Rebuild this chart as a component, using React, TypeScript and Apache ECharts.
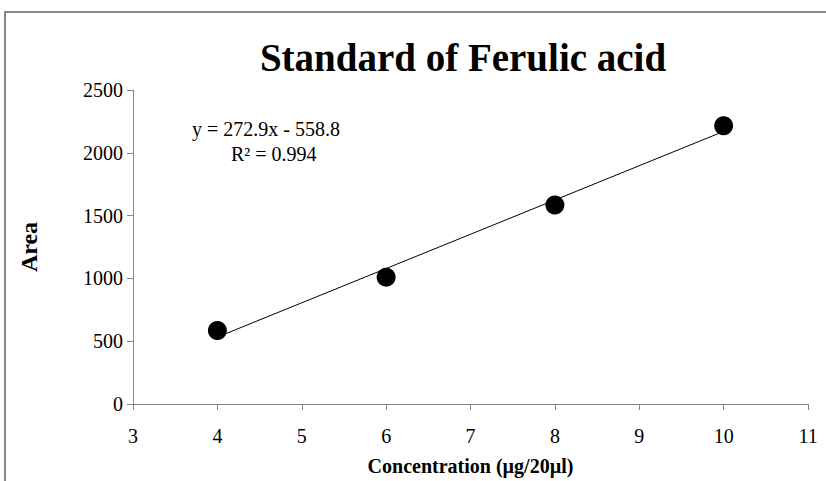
import React, { useEffect, useRef } from "react";
import * as echarts from "echarts";

const concentrations = [4, 6, 8, 10];
const areas = [585, 1010, 1585, 2215];
const slope = 272.9;
const intercept = -558.8;
const rSquared = "0.994";
const xTicks = [3, 4, 5, 6, 7, 8, 9, 10, 11];
const yTicks = [0, 500, 1000, 1500, 2000, 2500];

export default function App() {
  const ref = useRef<HTMLDivElement>(null);
  useEffect(() => {
    document.body.style.margin = "0";
    const chart = echarts.init(ref.current!, null, { renderer: "svg" });
    const serif = "'Liberation Serif', 'Times New Roman', serif";
    const x0 = concentrations[0];
    const x1 = concentrations[concentrations.length - 1];
    chart.setOption({
      animation: false,
      backgroundColor: "#ffffff",
      title: {
        text: "Standard of Ferulic acid",
        left: 458,
        top: 33,
        textAlign: "center",
        textStyle: { fontFamily: serif, fontSize: 39, fontWeight: "bold", color: "#000" },
      },
      grid: { left: 133, top: 90, width: 675, height: 316 },
      xAxis: {
        type: "value",
        min: xTicks[0],
        max: xTicks[xTicks.length - 1],
        interval: 1,
        name: "Concentration (µg/20µl)",
        nameLocation: "middle",
        nameGap: 52,
        nameTextStyle: { fontFamily: serif, fontSize: 20, fontWeight: "bold", color: "#000" },
        axisLine: { lineStyle: { color: "#888", width: 1 } },
        axisTick: { show: true, length: 6, lineStyle: { color: "#888" } },
        axisLabel: { fontFamily: serif, fontSize: 20, color: "#000", margin: 22 },
        splitLine: { show: false },
      },
      yAxis: {
        type: "value",
        min: yTicks[0],
        max: yTicks[yTicks.length - 1],
        interval: 500,
        name: "Area",
        nameLocation: "middle",
        nameGap: 92,
        nameRotate: 90,
        nameTextStyle: { fontFamily: serif, fontSize: 24, fontWeight: "bold", color: "#000" },
        axisLine: { show: true, lineStyle: { color: "#888", width: 1 } },
        axisTick: { show: true, length: 6, lineStyle: { color: "#888" } },
        axisLabel: {
          fontFamily: serif,
          fontSize: 20,
          color: "#000",
          margin: 10,
          formatter: (v: number) => String(v),
        },
        splitLine: { show: false },
      },
      graphic: [
        {
          type: "rect",
          shape: { x: 5, y: 12, width: 900, height: 600 },
          style: { fill: "none", stroke: "#888", lineWidth: 2 },
          silent: true,
        },
        {
          type: "text",
          left: 192,
          top: 119,
          style: {
            text: `y = ${slope}x - ${Math.abs(intercept)}`,
            fontFamily: serif,
            fontSize: 20,
            fill: "#000",
          },
        },
        {
          type: "text",
          left: 231,
          top: 144,
          style: {
            text: `R² = ${rSquared}`,
            fontFamily: serif,
            fontSize: 20,
            fill: "#000",
          },
        },
      ],
      series: [
        {
          type: "line",
          data: [
            [x0, slope * x0 + intercept],
            [x1, slope * x1 + intercept],
          ],
          symbol: "none",
          lineStyle: { color: "#000", width: 1 },
          z: 1,
        },
        {
          type: "scatter",
          data: concentrations.map((c, i) => [c, areas[i]]),
          symbol: "circle",
          symbolSize: 19,
          itemStyle: { color: "#000", opacity: 1 },
          z: 2,
        },
      ],
    });
    return () => chart.dispose();
  }, []);
  return <div ref={ref} style={{ width: 826, height: 481 }} />;
}
